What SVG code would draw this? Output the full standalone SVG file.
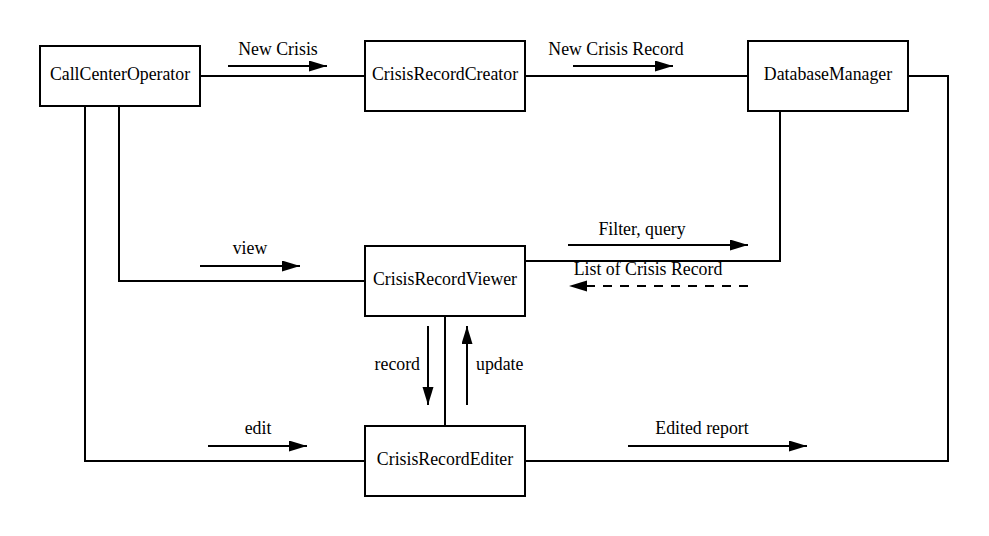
<svg xmlns="http://www.w3.org/2000/svg" width="989" height="536" viewBox="0 0 989 536">
<style>
.box{fill:#fff;stroke:#000;stroke-width:2}
.ln{fill:none;stroke:#000;stroke-width:2}
.arr{fill:none;stroke:#000;stroke-width:2;marker-end:url(#ah)}
.dash{fill:none;stroke:#000;stroke-width:2;stroke-dasharray:9,8}
text{font-family:"Liberation Serif","Times New Roman",serif;font-size:17.8px;fill:#000}
.c{text-anchor:middle}
</style>
<defs>
<marker id="ah" markerUnits="userSpaceOnUse" markerWidth="19" markerHeight="12" refX="18" refY="5.5" orient="auto">
<path d="M0,0 L18,5.5 L0,11 z" fill="#000"/>
</marker>
</defs>
<rect width="989" height="536" fill="#fff"/>
<g id="connectors">
<path class="ln" d="M200,76 H365"/>
<path class="ln" d="M525,76 H748"/>
<path class="ln" d="M908,76 H948 V461 H525"/>
<path class="ln" d="M780,110 V261 H525"/>
<path class="ln" d="M119,106 V281 H365"/>
<path class="ln" d="M85,106 V461 H365"/>
<path class="ln" d="M445,316 V426"/>
<path class="arr" d="M228,66 H327"/>
<text class="c" x="278" y="55">New Crisis</text>
<path class="arr" d="M573,66 H673"/>
<text class="c" x="616" y="55">New Crisis Record</text>
<path class="arr" d="M200,266 H300"/>
<text class="c" x="250" y="254">view</text>
<path class="arr" d="M568,245 H748"/>
<text class="c" x="642" y="235">Filter, query</text>
<path class="dash" d="M748,286 H584"/>
<path d="M569,286 L587,280.5 L587,291.5 z" fill="#000"/>
<text class="c" x="648" y="275">List of Crisis Record</text>
<path class="arr" d="M428,326 V405"/>
<text x="420" y="370" text-anchor="end">record</text>
<path class="arr" d="M467,405 V326"/>
<text x="476" y="370">update</text>
<path class="arr" d="M208,446 H307"/>
<text class="c" x="258" y="434">edit</text>
<path class="arr" d="M628,446 H807"/>
<text class="c" x="702" y="434">Edited report</text>
</g>
<g id="CallCenterOperator">
<rect class="box" x="40" y="46" width="160" height="60"/>
<text class="c" x="120" y="80">CallCenterOperator</text>
</g>
<g id="CrisisRecordCreator">
<rect class="box" x="365" y="41" width="160" height="70"/>
<text class="c" x="445" y="80">CrisisRecordCreator</text>
</g>
<g id="DatabaseManager">
<rect class="box" x="748" y="41" width="160" height="70"/>
<text class="c" x="828" y="80">DatabaseManager</text>
</g>
<g id="CrisisRecordViewer">
<rect class="box" x="365" y="246" width="160" height="70"/>
<text class="c" x="445" y="285">CrisisRecordViewer</text>
</g>
<g id="CrisisRecordEditer">
<rect class="box" x="365" y="426" width="160" height="70"/>
<text class="c" x="445" y="465">CrisisRecordEditer</text>
</g>
</svg>
